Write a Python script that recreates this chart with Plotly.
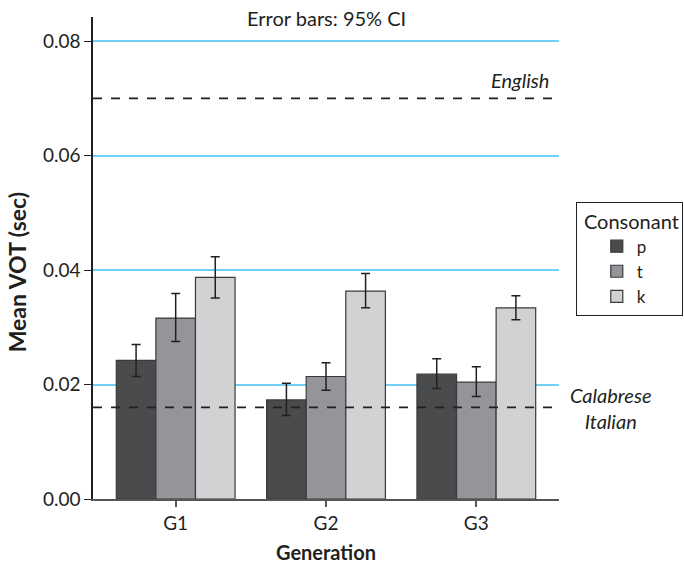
import plotly.graph_objects as go

generations = ["G1", "G2", "G3"]
consonants = ["p", "t", "k"]
means = {
    "p": [0.0242, 0.0173, 0.0218],
    "t": [0.0316, 0.0214, 0.0204],
    "k": [0.0387, 0.0363, 0.0334],
}
ci_upper = {
    "p": [0.0270, 0.0202, 0.0245],
    "t": [0.0359, 0.0238, 0.0231],
    "k": [0.0423, 0.0394, 0.0355],
}
ci_lower = {
    "p": [0.0214, 0.0146, 0.0193],
    "t": [0.0275, 0.0190, 0.0179],
    "k": [0.0351, 0.0334, 0.0313],
}
colors = {"p": "#4a4b4d", "t": "#949598", "k": "#d1d2d4"}
ref_values = [0.070, 0.016]
ref_labels = ["<i>English</i>", "<i>Calabrese<br>Italian</i>"]
y_ticks = [0.00, 0.02, 0.04, 0.06, 0.08]

FONT = "Lato, 'Open Sans', sans-serif"

fig = go.Figure()
for c in consonants:
    m = means[c]
    up = [u - v for u, v in zip(ci_upper[c], m)]
    lo = [v - l for v, l in zip(m, ci_lower[c])]
    fig.add_trace(go.Bar(
        x=generations, y=m, name=c,
        marker=dict(color=colors[c], line=dict(color="#3a3a3c", width=1.2)),
        error_y=dict(type="data", symmetric=False, array=up, arrayminus=lo,
                     color="#231f20", thickness=1.5, width=4.5),
    ))

for v in ref_values:
    fig.add_shape(type="line", xref="paper", x0=0, x1=1, yref="y", y0=v, y1=v,
                  line=dict(color="#231f20", width=1.8, dash="dash"), layer="above")

fig.add_annotation(xref="paper", x=0.983, yref="y", y=ref_values[0], yshift=18,
                   text=ref_labels[0], showarrow=False, xanchor="right",
                   font=dict(size=20, color="#231f20", family=FONT))
fig.add_annotation(xref="paper", x=1.111, yref="y", y=ref_values[1], yshift=-1,
                   text=ref_labels[1], showarrow=False, xanchor="center",
                   font=dict(size=20, color="#231f20", family=FONT))
fig.add_annotation(xref="paper", x=0.5, yref="paper", y=1.0, yshift=-1,
                   text="Error bars: 95% CI", showarrow=False, yanchor="middle",
                   font=dict(size=20, color="#231f20", family=FONT))
# y-axis title (placed as annotation to match its offset position)
fig.add_annotation(xref="paper", x=-0.1623, yref="paper", y=0.471,
                   text="<b>Mean VOT (sec)</b>", showarrow=False, textangle=-90,
                   xanchor="center", yanchor="middle",
                   font=dict(size=23, color="#231f20", family=FONT))

fig.update_layout(
    width=684, height=564,
    margin=dict(l=93, r=125, t=17, b=65, autoexpand=False),
    plot_bgcolor="white", paper_bgcolor="white",
    barmode="group", bargap=0.21, bargroupgap=0,
    font=dict(family=FONT, size=20, color="#231f20"),
    showlegend=True,
    legend=dict(
        title=dict(text=" Consonant", font=dict(size=20)),
        x=1.036, y=0.617, xanchor="left", yanchor="top",
        bordercolor="#231f20", borderwidth=1, bgcolor="white",
        font=dict(size=17), tracegroupgap=0, itemwidth=30,
        indentation=20,
    ),
    xaxis=dict(
        range=[-0.55, 2.55], showline=True, linecolor="#555555", linewidth=1.5,
        ticks="outside", ticklen=6, tickcolor="#555555", tickwidth=1.5,
        tickfont=dict(size=19), automargin=False,
        title=dict(text="<b>Generation</b>", standoff=14, font=dict(size=20)),
        showgrid=False, zeroline=False,
    ),
    yaxis=dict(
        range=[0, 0.0842], tickvals=y_ticks, tickformat=".2f",
        showline=True, linecolor="#231f20", linewidth=1.5,
        ticks="outside", ticklen=7, tickcolor="#231f20", tickwidth=1.2,
        tickfont=dict(size=19), automargin=False,
        showgrid=True, gridcolor="#6fd0f4", gridwidth=1.5, zeroline=False,
    ),
)

fig.write_html("out.html", config={"displayModeBar": False},
               post_script="document.body.style.margin='0';")
